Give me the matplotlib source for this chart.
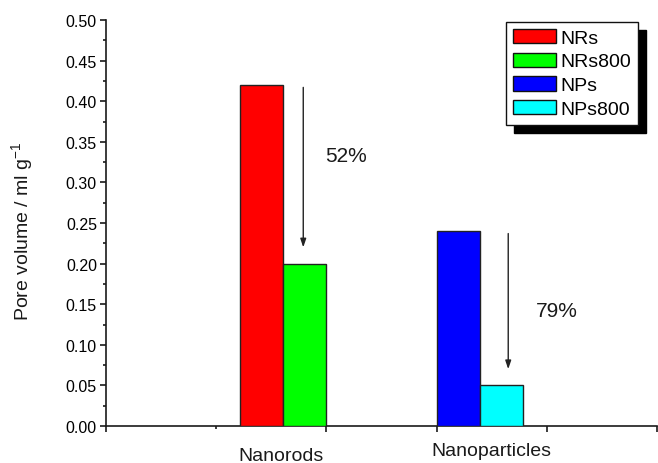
import matplotlib
matplotlib.use("Agg")
import matplotlib.pyplot as plt
from matplotlib.patches import Patch, Rectangle
from matplotlib.transforms import blended_transform_factory, IdentityTransform
from matplotlib.ticker import MultipleLocator, FixedLocator

# Pore volumes (ml/g) before and after 800 °C treatment
categories = ["Nanorods", "Nanoparticles"]
series = ["NRs", "NRs800", "NPs", "NPs800"]
pore_volume = [0.42, 0.20, 0.24, 0.05]
colors = ["#ff0000", "#00ff00", "#0000ff", "#00ffff"]

# layout on an Origin-style 0..5 x axis
bar_left = [1.22, 1.61, 3.00, 3.39]
bar_width = 0.39
label_x = [1.585, 3.50]
label_y_px = [461, 456]
arrow_x = [1.79, 3.65]

plt.rcParams["font.family"] = ["Liberation Sans", "DejaVu Sans"]

W, H = 658, 464
fig = plt.figure(figsize=(W / 100, H / 100), dpi=100)
ax = fig.add_axes([106 / W, 1 - 427 / H, (657 - 106) / W, (427 - 21) / H])

ax.bar(bar_left, pore_volume, width=bar_width, align="edge",
       color=colors, edgecolor="#222222", linewidth=1.0, zorder=3)

ax.set_xlim(0, 5)
ax.set_ylim(0, 0.5)
for s in ("top", "right"):
    ax.spines[s].set_visible(False)
for s in ("left", "bottom"):
    ax.spines[s].set_linewidth(1.2)
    ax.spines[s].set_color("#1a1a1a")

ax.yaxis.set_major_locator(MultipleLocator(0.05))
ax.yaxis.set_minor_locator(MultipleLocator(0.025))
ax.yaxis.set_major_formatter(matplotlib.ticker.FormatStrFormatter("%.2f"))
ax.xaxis.set_major_locator(FixedLocator([0, 2, 3, 4, 5]))
ax.xaxis.set_minor_locator(FixedLocator([1]))
ax.set_xticklabels([])
ax.tick_params(axis="both", which="major", direction="out", length=4.5,
               width=1.2, color="#1a1a1a", labelsize=11.5, pad=2)
ax.tick_params(axis="both", which="minor", direction="out", length=2.5,
               width=1.2, color="#1a1a1a")

# y axis title placed in pixel coordinates
fig.text(23 / W, 1 - 231 / H, "Pore volume / ml g$^{\\mathregular{-1}}$",
         rotation=90, ha="center", va="center", fontsize=14, color="#1a1a1a")

# category names under the groups
trans = blended_transform_factory(ax.transData, IdentityTransform())
for cx, py, name in zip(label_x, label_y_px, categories):
    ax.text(cx, H - py, name, transform=trans, ha="center", va="baseline",
            fontsize=14, color="#1a1a1a", clip_on=False)

# reduction arrows and percentages
pairs = [(0, 1), (2, 3)]
pct_pos = [(1.99, 0.326), (3.90, 0.1355)]
for (i, j), ax_x, (tx, ty) in zip(pairs, arrow_x, pct_pos):
    top, bottom = pore_volume[i], pore_volume[j]
    ax.annotate("", xy=(ax_x, bottom + 0.02), xytext=(ax_x, top - 0.003),
                arrowprops=dict(arrowstyle="-|>,head_length=0.5,head_width=0.17",
                                color="#222222", lw=1.0, shrinkA=0, shrinkB=0))
    pct = round((top - bottom) / top * 100)
    ax.text(tx, ty, f"{pct}%", fontsize=15, ha="left", va="baseline", color="#1a1a1a")

# legend with a solid drop shadow
handles = [Patch(facecolor=c, edgecolor="#111111", linewidth=1.0) for c in colors]
leg = fig.legend(handles, series, loc="upper left",
                 bbox_to_anchor=(506 / W, 1 - 23 / H),
                 fontsize=14, frameon=True, fancybox=False, framealpha=1,
                 edgecolor="#111111", handlelength=2.2, handleheight=0.75,
                 handletextpad=0.25, labelspacing=0.3, borderpad=0.35,
                 borderaxespad=0)
leg.get_frame().set_linewidth(1.0)
leg.set_zorder(5)

fig.canvas.draw()
bb = leg.get_window_extent()
off = 8
fig.add_artist(Rectangle((bb.x0 + off, bb.y0 - off), bb.width, bb.height,
                         transform=IdentityTransform(), facecolor="black",
                         edgecolor="black", zorder=4))

fig.savefig("out.png", dpi=100)
